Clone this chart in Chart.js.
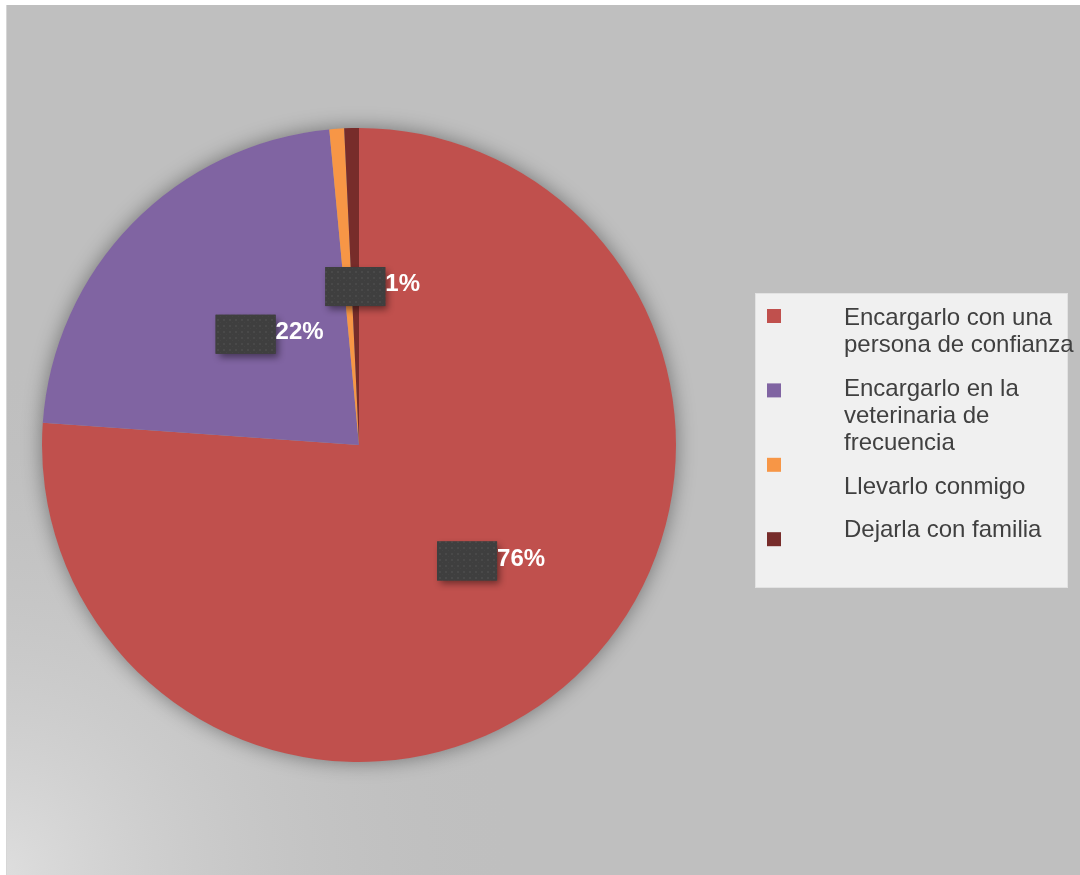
<!DOCTYPE html>
<html>
<head>
<meta charset="utf-8">
<title>Cuidado de la mascota</title>
<script src="https://cdn.jsdelivr.net/npm/chart.js@4.4.1/dist/chart.umd.min.js"></script>
<style>
  html, body { margin: 0; padding: 0; background: #ffffff; }
  #wrap { position: relative; width: 1080px; height: 875px; }
</style>
</head>
<body>
<div id="wrap"><canvas id="c" width="1080" height="875"></canvas></div>
<script>
// Answers per option; percentages are derived from these counts
const categories = [
  'Encargarlo con una persona de confianza',
  'Encargarlo en la veterinaria de frecuencia',
  'Llevarlo conmigo',
  'Dejarla con familia'
];
const responses = [102, 30, 1, 1];
// Which slices carry a value label (the two 1% slices share one spot)
const showValueLabel = [true, true, false, true];

const sliceColors = ['#C0504D', '#8064A2', '#F79646', '#772C2A'];
const FONT = '"Liberation Sans", Arial, sans-serif';

// Dotted dark texture used behind the value labels
function makeDotPattern(ctx) {
  const p = document.createElement('canvas');
  p.width = 6; p.height = 6;
  const g = p.getContext('2d');
  g.fillStyle = '#3f3f3f';
  g.fillRect(0, 0, 6, 6);
  g.fillStyle = '#494949';
  g.fillRect(1, 1, 2, 2);
  g.fillStyle = '#444444';
  g.fillRect(4, 4, 1, 1);
  return ctx.createPattern(p, 'repeat');
}

// Panel background: white page, grey panel with a lighter lower-left corner
const panelBackground = {
  id: 'panelBackground',
  beforeDraw(chart) {
    const { ctx, width, height } = chart;
    ctx.save();
    ctx.fillStyle = '#ffffff';
    ctx.fillRect(0, 0, width, height);
    ctx.fillStyle = '#bfbfbf';
    ctx.fillRect(7, 5, width - 7, height - 5);
    const g = ctx.createRadialGradient(0, height, 0, 0, height, 520);
    g.addColorStop(0, 'rgba(222,222,222,1)');
    g.addColorStop(1, 'rgba(191,191,191,0)');
    ctx.fillStyle = g;
    ctx.fillRect(7, 5, width - 7, height - 5);
    ctx.strokeStyle = '#d6d6d6';
    ctx.lineWidth = 1;
    ctx.beginPath();
    ctx.moveTo(6.5, 5);
    ctx.lineTo(6.5, height);
    ctx.stroke();
    ctx.restore();
  }
};

// Soft shadow under the pie
const pieShadow = {
  id: 'pieShadow',
  beforeDatasetsDraw(chart) {
    const arc = chart.getDatasetMeta(0).data[0];
    if (!arc) return;
    const { ctx } = chart;
    ctx.save();
    ctx.shadowColor = 'rgba(0,0,0,0.4)';
    ctx.shadowBlur = 20;
    ctx.fillStyle = '#a0a0a0';
    ctx.beginPath();
    ctx.arc(arc.x, arc.y, arc.outerRadius, 0, Math.PI * 2);
    ctx.fill();
    ctx.restore();
  }
};

// Value labels: textured dark box at mid-radius, percentage text to its right
const valueLabels = {
  id: 'valueLabels',
  afterDatasetsDraw(chart) {
    const { ctx } = chart;
    const ds = chart.data.datasets[0];
    const total = ds.data.reduce((a, b) => a + b, 0);
    const pattern = makeDotPattern(ctx);
    chart.getDatasetMeta(0).data.forEach((arc, i) => {
      if (!showValueLabel[i]) return;
      const mid = (arc.startAngle + arc.endAngle) / 2;
      const r = arc.outerRadius * 0.5;
      const cx = arc.x + Math.cos(mid) * r;
      const cy = arc.y + Math.sin(mid) * r;
      const bw = 60, bh = 39;
      const bx = cx - bw / 2, by = cy - bh / 2;
      ctx.save();
      ctx.shadowColor = 'rgba(0,0,0,0.45)';
      ctx.shadowBlur = 7;
      ctx.shadowOffsetX = 3;
      ctx.shadowOffsetY = 4;
      ctx.fillStyle = '#3f3f3f';
      ctx.fillRect(bx, by, bw, bh);
      ctx.restore();
      ctx.save();
      ctx.fillStyle = pattern;
      ctx.fillRect(bx, by, bw, bh);
      ctx.fillStyle = '#ffffff';
      ctx.font = 'bold 24px ' + FONT;
      ctx.textAlign = 'left';
      ctx.textBaseline = 'middle';
      ctx.fillText(Math.round(ds.data[i] / total * 100) + '%', bx + bw, cy - 2);
      ctx.restore();
    });
  }
};

// Boxed legend on the right with wrapped labels
const boxedLegend = {
  id: 'boxedLegend',
  afterDraw(chart) {
    const { ctx } = chart;
    const box = { x: 755, y: 293, w: 313, h: 295 };
    ctx.save();
    ctx.fillStyle = '#f0f0f0';
    ctx.fillRect(box.x, box.y, box.w, box.h);
    ctx.strokeStyle = '#e2e2e2';
    ctx.lineWidth = 1;
    ctx.strokeRect(box.x + 0.5, box.y + 0.5, box.w - 1, box.h - 1);

    ctx.font = '24px ' + FONT;
    ctx.fillStyle = '#404040';
    ctx.textAlign = 'left';
    ctx.textBaseline = 'alphabetic';
    const wrapWidth = 232;
    const lineH = 27.3;
    const itemGap = 16;
    const textX = 844;
    const swatchX = 767, swatchSize = 14;
    const swatchTop = 309, swatchStep = 74.4;
    let baseline = 325;

    const colors = chart.data.datasets[0].backgroundColor;
    chart.data.labels.forEach((label, i) => {
      ctx.fillStyle = colors[i];
      ctx.fillRect(swatchX, swatchTop + i * swatchStep, swatchSize, swatchSize);

      const words = label.split(' ');
      const lines = [];
      let cur = '';
      words.forEach(w => {
        const test = cur ? cur + ' ' + w : w;
        if (ctx.measureText(test).width > wrapWidth && cur) {
          lines.push(cur);
          cur = w;
        } else {
          cur = test;
        }
      });
      if (cur) lines.push(cur);

      ctx.fillStyle = '#404040';
      lines.forEach((ln, k) => {
        ctx.fillText(ln, textX, baseline);
        if (k < lines.length - 1) baseline += lineH;
      });
      baseline += lineH + itemGap;
    });
    ctx.restore();
  }
};

new Chart(document.getElementById('c'), {
  type: 'pie',
  data: {
    labels: categories,
    datasets: [{
      data: responses,
      backgroundColor: sliceColors,
      borderWidth: 0,
      hoverOffset: 0
    }]
  },
  options: {
    responsive: false,
    devicePixelRatio: 1,
    animation: false,
    events: [],
    layout: { padding: { left: 42, right: 404, top: 128, bottom: 113 } },
    plugins: {
      legend: { display: false },
      tooltip: { enabled: false },
      title: { display: false }
    }
  },
  plugins: [panelBackground, pieShadow, valueLabels, boxedLegend]
});
</script>
</body>
</html>
